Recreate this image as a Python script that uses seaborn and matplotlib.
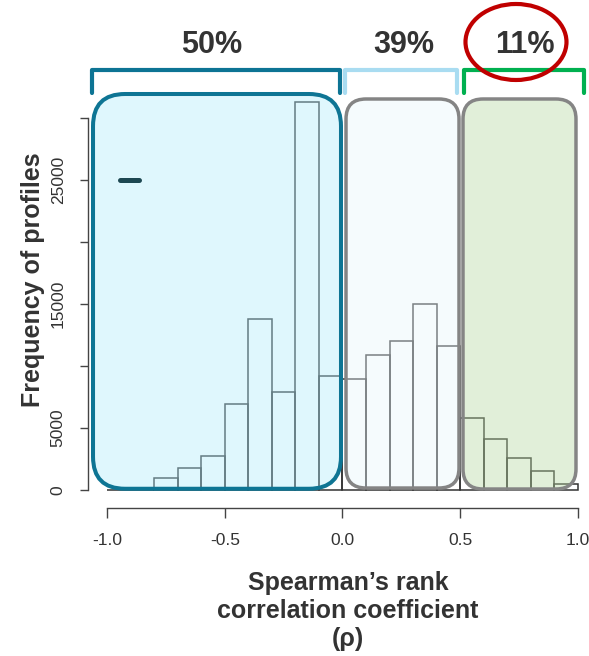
import numpy as np
import pandas as pd
import matplotlib
matplotlib.use("Agg")
import matplotlib.pyplot as plt
import seaborn as sns
from matplotlib.patches import FancyBboxPatch, Ellipse

# histogram of Spearman rho, bins of width 0.1 from -1 to 1
bin_edges = [-1.0, -0.9, -0.8, -0.7, -0.6, -0.5, -0.4, -0.3, -0.2, -0.1, 0.0,
             0.1, 0.2, 0.3, 0.4, 0.5, 0.6, 0.7, 0.8, 0.9, 1.0]
counts = [0, 0, 1000, 1800, 2750, 6950, 13800, 7900, 31250, 9200,
          8950, 10900, 12050, 15000, 11600, 5800, 4150, 2550, 1500, 480]

group_labels = ["50%", "39%", "11%"]
y_ticks = [0, 5000, 10000, 15000, 20000, 25000, 30000]
y_ticklabels = ["0", "5000", "", "15000", "", "25000", ""]
x_ticks = [-1.0, -0.5, 0.0, 0.5, 1.0]
x_ticklabels = ["-1.0", "-0.5", "0.0", "0.5", "1.0"]

sns.set_style("white")
plt.rcParams['font.family'] = ['Liberation Sans', 'DejaVu Sans']

df = pd.DataFrame({"mid": (np.array(bin_edges[:-1]) + np.array(bin_edges[1:])) / 2,
                   "n": counts})

fig = plt.figure(figsize=(5.89, 6.56), dpi=100)
ax = fig.add_axes([88 / 589, 148.3 / 656, 498 / 589, 447.7 / 656])

sns.histplot(data=df, x="mid", weights="n", bins=bin_edges, fill=False,
             color="#333333", linewidth=1.1, ax=ax, zorder=2)

ax.set_xlim(-1.0807, 1.034)
ax.set_ylim(-1427, 34677)

# axes in R style
for s in ["top", "right"]:
    ax.spines[s].set_visible(False)
ax.spines["left"].set_bounds(0, 30000)
ax.spines["bottom"].set_bounds(-1, 1)
for s in ["left", "bottom"]:
    ax.spines[s].set_color("#444444")
    ax.spines[s].set_linewidth(1.0)
ax.set_yticks(y_ticks)
ax.set_yticklabels(y_ticklabels)
ax.set_xticks(x_ticks)
ax.set_xticklabels(x_ticklabels)
ax.tick_params(axis="y", length=6, width=1, color="#444444", labelsize=12.5,
               labelcolor="#333333", labelrotation=90, pad=10, left=True)
ax.tick_params(axis="x", length=7.2, width=1, color="#444444", labelsize=12.5,
               labelcolor="#333333", pad=11, bottom=True)
for lab in ax.get_yticklabels():
    lab.set_va("center")
ax.set_xlabel("")
ax.set_ylabel("")

# rounded boxes over the groups (semi transparent overlay)
asp = (1000 / 12.4) / (1 / 235.5)
boxes = [
    ((-1.0594, 100), 1.053, 31835, 0.136, (0.686, 0.922, 0.988, 0.4), "#0e7594", 2.9),
    ((0.0149, 160), 0.4798, 31372, 0.085, (0.902, 0.961, 0.988, 0.4), "#848484", 2.5),
    ((0.5117, 80), 0.4798, 31452, 0.085, (0.714, 0.843, 0.627, 0.4), "#858585", 2.5),
]
for (xy, w, h, r, fc, ec, lw) in boxes:
    p = FancyBboxPatch(xy, w, h, boxstyle=f"round,pad=0,rounding_size={r}",
                       mutation_aspect=asp, facecolor=fc, edgecolor=ec,
                       linewidth=lw, zorder=3, clip_on=False)
    ax.add_patch(p)

# small dash
ax.plot([-0.945, -0.864], [25000, 25000], color="#1d4852", lw=3.6,
        solid_capstyle="round", zorder=4)

# brackets on top
bracket_colors = ["#0d7494", "#a9dcf1", "#00b050"]
bracket_x = [(-1.064, -0.0106), (0.0106, 0.486), (0.516, 1.0255)]
for (x0, x1), c in zip(bracket_x, bracket_colors):
    ax.plot([x0, x0, x1, x1], [32016, 33871, 33871, 32016], color=c, lw=3,
            solid_joinstyle="round", clip_on=False, zorder=4)

# percent labels
label_x = [-0.554, 0.261, 0.775]
for lx, t in zip(label_x, group_labels):
    ax.text(lx, 35887, t, ha="center", va="center", fontsize=22,
            fontweight="bold", color="#333333", clip_on=False)

# red ellipse around 11%
ax.add_patch(Ellipse((0.7367, 36129), 0.4289, 6129, fill=False,
                     edgecolor="#c00000", lw=3, clip_on=False, zorder=5))

fig.text(33 / 589, 1 - 280 / 656, "Frequency of profiles", rotation=90,
         ha="center", va="center", fontsize=18, fontweight="bold", color="#333333")
fig.text(348 / 589, 1 - 611 / 656,
         "Spearman\u2019s rank\ncorrelation coefficient\n(\u03c1)",
         ha="center", va="center", fontsize=18, fontweight="bold",
         color="#333333", linespacing=1.2)

fig.savefig("out.png", dpi=100)
